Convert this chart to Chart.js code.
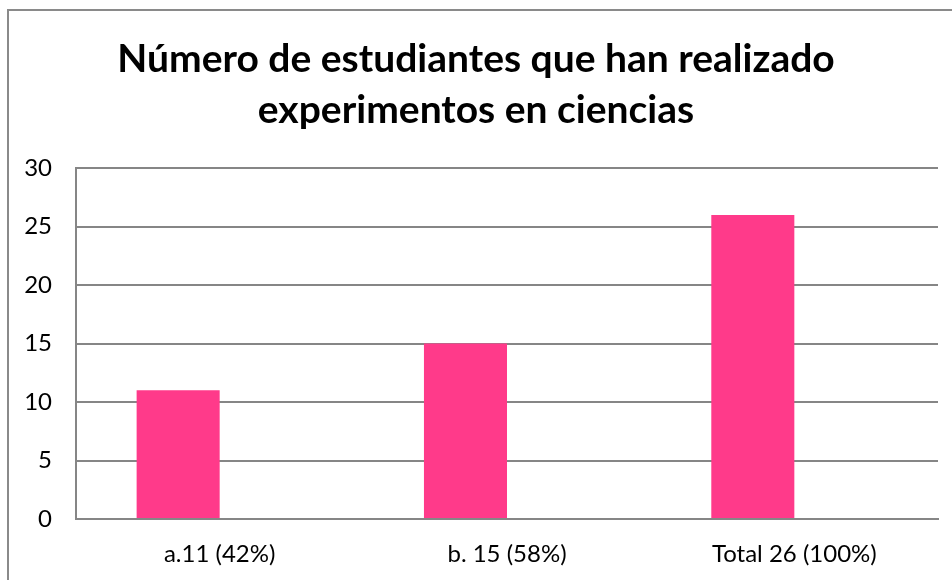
<!DOCTYPE html>
<html>
<head>
<meta charset="utf-8">
<script src="https://cdn.jsdelivr.net/npm/chart.js@4"></script>
<style>
  body { margin: 0; background: #fff; }
  #wrap { position: absolute; left: 0; top: 0; width: 952px; height: 580px; }
  #frame { position: absolute; left: 7px; top: 9px; width: 960px; height: 600px;
           border-left: 2px solid #8a8a8a; border-top: 2px solid #8a8a8a; }
  canvas { position: absolute; left: 0; top: 0; }
</style>
</head>
<body>
<div id="wrap">
  <div id="frame"></div>
  <canvas id="myChart" width="952" height="580"></canvas>
</div>
<script>
// Datos del gráfico
var categorias = ['a.11 (42%)', 'b. 15 (58%)', 'Total 26 (100%)'];
var estudiantes = [11, 15, 26];
var vacia = [null, null, null]; // segunda serie vacía (como en Excel)
var titulo = ['Número de estudiantes que han realizado', 'experimentos en ciencias'];

var gris = '#868686';

var ctx = document.getElementById('myChart').getContext('2d');

new Chart(ctx, {
    type: 'bar',
    data: {
        labels: categorias,
        datasets: [{
            label: 'Estudiantes',
            backgroundColor: '#ff3a8a',
            data: estudiantes,
            categoryPercentage: 0.578,
            barPercentage: 1
        }, {
            label: '',
            backgroundColor: '#ff3a8a',
            data: vacia,
            categoryPercentage: 0.578,
            barPercentage: 1
        }]
    },
    options: {
        responsive: false,
        animation: false,
        devicePixelRatio: 1,
        layout: { padding: 0 },
        plugins: {
            legend: { display: false },
            tooltip: { enabled: false },
            title: {
                display: true,
                text: titulo,
                color: '#000',
                font: { family: 'Lato', size: 39, weight: 'bold', lineHeight: 1.31 },
                padding: { top: 34, bottom: 32 }
            }
        },
        scales: {
            x: {
                grid: { display: false, drawTicks: false },
                border: { display: true, color: gris, width: 2 },
                ticks: { color: '#000', font: { family: 'Lato', size: 24 }, padding: 21 },
                afterFit: function(scale) { scale.height = 61; }
            },
            y: {
                min: 0,
                max: 30,
                grid: { color: gris, lineWidth: 2, drawTicks: false },
                border: { display: true, color: gris, width: 2 },
                ticks: { stepSize: 5, color: '#000', font: { family: 'Lato', size: 24 }, padding: 24 },
                afterFit: function(scale) { scale.width = 76; }
            },
            // eje vacío a la derecha, solo para dejar el margen
            yDer: {
                position: 'right',
                min: 0,
                max: 30,
                grid: { display: false, drawTicks: false },
                border: { display: false },
                ticks: { display: false },
                afterFit: function(scale) { scale.width = 14; }
            }
        }
    }
});
</script>
</body>
</html>
